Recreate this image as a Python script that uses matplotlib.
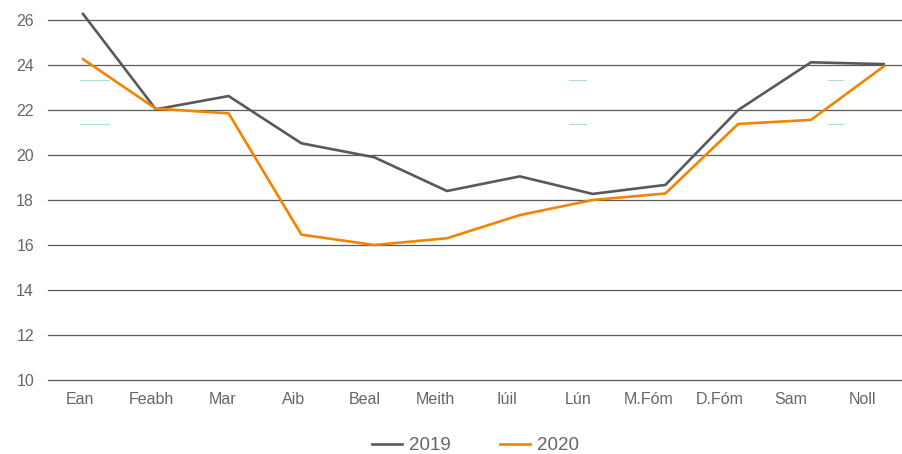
import matplotlib
matplotlib.use("Agg")
import matplotlib.pyplot as plt
import numpy as np

months = ["Ean", "Feabh", "Mar", "Aib", "Beal", "Meith", "Iúil", "Lún", "M.Fóm", "D.Fóm", "Sam", "Noll"]
values_2019 = [26.27, 22.03, 22.62, 20.52, 19.9, 18.4, 19.05, 18.27, 18.67, 22.0, 24.12, 24.04]
values_2020 = [24.26, 22.06, 21.85, 16.46, 16.0, 16.3, 17.33, 18.0, 18.29, 21.38, 21.56, 23.94]
yticks = [10, 12, 14, 16, 18, 20, 22, 24, 26]

plt.rcParams['font.family'] = ['Liberation Sans', 'DejaVu Sans']

fig = plt.figure(figsize=(9.03, 4.54), dpi=100)
ax = fig.add_axes([48/903, 1-380/454, 1-48/903, 360/454])

x = np.arange(len(months))
ax.plot(x, values_2019, color="#595959", lw=1.9, label="2019", clip_on=False, zorder=3)
ax.plot(x, values_2020, color="#F28500", lw=1.9, label="2020", clip_on=False, zorder=3)

ax.set_ylim(10, 26)
ax.set_xlim(-0.481, 11.264)
ax.set_yticks(yticks)
# category labels sit on a slightly narrower pitch than the points
ax.set_xticks(-0.041 + 0.9767 * x)
ax.set_xticklabels(months)
ax.yaxis.grid(True, color="#5a5a5a", lw=0.9)
for gl in ax.get_ygridlines():
    gl.set_clip_on(False)
ax.set_axisbelow(True)
for s in ax.spines.values():
    s.set_visible(False)
ax.tick_params(axis='y', length=0, labelsize=11.5, labelcolor="#666666", pad=10)
ax.tick_params(axis='x', length=0, labelsize=11.5, labelcolor="#666666", pad=9)

# faint decorative dashes seen in the reference
for (a, b) in [(0.038, 0.0714), (0.609, 0.629), (0.912, 0.930)]:
    for yy in [23.33, 21.38]:
        ax.plot([a, b], [yy, yy], color="#a8dcd9", lw=0.8,
                transform=ax.get_yaxis_transform(), zorder=1)

leg = ax.legend(loc='center', bbox_to_anchor=(0.5, -0.183), ncol=2, frameon=False,
                fontsize=13.5, handlelength=1.6, columnspacing=2.6, handletextpad=0.4)
for t in leg.get_texts():
    t.set_color("#666666")

fig.savefig("out.png", dpi=100)
